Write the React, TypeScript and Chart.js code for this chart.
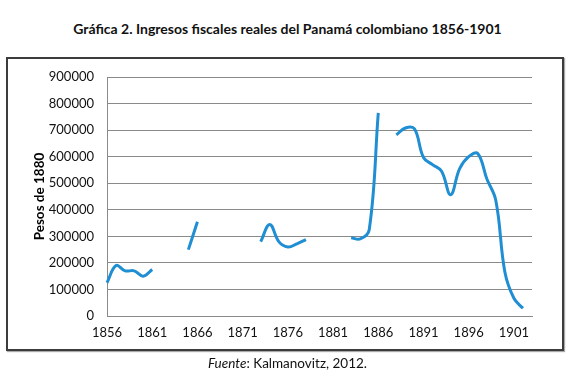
import React, { useEffect, useRef } from "react";
import { Chart, registerables } from "chart.js";

Chart.register(...registerables);

const years: string[] = [
  "1856","1857","1858","1859","1860","1861","1862","1863","1864","1865",
  "1866","1867","1868","1869","1870","1871","1872","1873","1874","1875",
  "1876","1877","1878","1879","1880","1881","1882","1883","1884","1885",
  "1886","1887","1888","1889","1890","1891","1892","1893","1894","1895",
  "1896","1897","1898","1899","1900","1901","1902","1903",
];

const revenue: (number | null)[] = [
  125000, 190000, 170000, 170000, 150000, 175000, null, null, null, 250000,
  355000, null, null, null, null, null, null, 280000, 345000, 280000,
  260000, 272000, 288000, null, null, null, null, 295000, 290000, 325000,
  765000, null, 682000, 708000, 705000, 597000, 570000, 545000, 457000, 555000,
  600000, 612000, 517000, 435000, 166000, 67000, 29000, null,
];

const xTickLabels: string[] = ["1856","1861","1866","1871","1876","1881","1886","1891","1896","1901"];

const titleText = "Gráfica 2. Ingresos fiscales reales del Panamá colombiano 1856-1901";
const yTitle = "Pesos de 1880";

export default function App() {
  const ref = useRef<HTMLCanvasElement | null>(null);

  useEffect(() => {
    if (!ref.current) return;
    Chart.defaults.font.family = "Lato";
    const chart = new Chart(ref.current, {
      type: "line",
      data: {
        labels: years,
        datasets: [
          {
            data: revenue,
            borderColor: "#1f8ed3",
            borderWidth: 3,
            pointRadius: 0,
            tension: 0.4,
            spanGaps: false,
            fill: false,
          },
        ],
      },
      options: {
        animation: false,
        responsive: false,
        maintainAspectRatio: false,
        layout: { padding: { left: 28, top: 77, right: 43, bottom: 30 } },
        plugins: { legend: { display: false }, tooltip: { enabled: false } },
        scales: {
          x: {
            type: "category",
            offset: false,
            grid: { display: false, drawTicks: false },
            border: { display: true, color: "#8a8a8a", width: 1 },
            ticks: {
              autoSkip: false,
              maxRotation: 0,
              padding: 9,
              color: "#111",
              font: { size: 13 },
              callback: function (this: any, value: any) {
                const lab = this.getLabelForValue(value);
                return xTickLabels.includes(lab) ? lab : "";
              },
            },
            afterFit: (s: any) => {
              s.height = 34;
            },
          },
          y: {
            min: 0,
            max: 900000,
            grid: { color: "#8a8a8a", lineWidth: 1, drawTicks: false },
            border: { display: true, color: "#8a8a8a", width: 1 },
            ticks: {
              stepSize: 100000,
              padding: 13,
              color: "#111",
              font: { size: 13 },
              callback: (v: any) => String(v),
            },
            title: {
              display: true,
              text: yTitle,
              color: "#000",
              font: { size: 13.5, weight: "bold" },
              padding: { top: 4, bottom: 4 },
            },
            afterFit: (s: any) => {
              s.width = 79;
            },
          },
        },
      },
    });
    return () => chart.destroy();
  }, []);

  return (
    <div style={{ position: "absolute", left: 0, top: 0, width: 575, height: 380, background: "#fff", overflow: "hidden" }}>
      <div
        style={{
          position: "absolute",
          left: 0,
          top: 21,
          width: 575,
          textAlign: "center",
          fontFamily: "Lato",
          fontWeight: 700,
          fontSize: 14,
          lineHeight: "16px",
          color: "#111",
        }}
      >
        {titleText}
      </div>
      <div
        style={{
          position: "absolute",
          left: 6,
          top: 57,
          width: 554,
          height: 290,
          border: "2px solid #3c3c3c",
          boxShadow: "1px 1px 1px #aaa",
        }}
      />
      <canvas ref={ref} width={575} height={380} style={{ position: "absolute", left: 0, top: 0 }} />
      <div
        style={{
          position: "absolute",
          left: 0,
          top: 355,
          width: 575,
          textAlign: "center",
          fontFamily: "Lato",
          fontSize: 13.5,
          lineHeight: "16px",
          color: "#111",
        }}
      >
        <i>Fuente</i>: Kalmanovitz, 2012.
      </div>
    </div>
  );
}
